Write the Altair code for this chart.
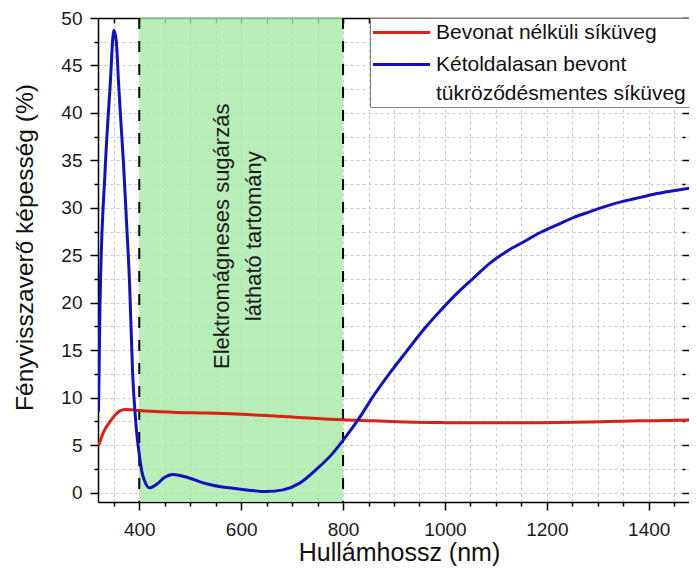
import altair as alt
import pandas as pd

# ---------------- data ----------------
SERIES = ["Bevonat nélküli síküveg", "Kétoldalasan bevont tükröződésmentes síküveg"]
COLORS = ["#dc1f17", "#1111c2"]

WL_RED = [320, 325, 333, 343, 353, 362, 372, 385, 400, 465, 531, 600, 649, 700, 750,
          800, 860, 925, 1000, 1055, 1150, 1252, 1320, 1384, 1440, 1496]
R_RED = [4.9, 5.7, 6.7, 7.5, 8.2, 8.6, 8.75, 8.72, 8.65, 8.47, 8.37, 8.25, 8.11, 7.95, 7.8,
         7.66, 7.55, 7.42, 7.36, 7.34, 7.35, 7.40, 7.48, 7.55, 7.6, 7.66]

WL_BLUE = [320, 323, 333, 343, 350, 355, 359, 364, 369, 375, 381, 387, 393, 400, 405,
           410, 420, 435, 450, 465, 480, 500, 518, 538, 560, 584, 615, 649, 682, 715,
           747, 780, 800, 830, 860, 892, 925, 957, 990, 1022, 1056, 1089, 1121, 1154,
           1187, 1220, 1253, 1285, 1318, 1351, 1384, 1416, 1449, 1496]
R_BLUE = [8.5, 20.0, 34.0, 43.0, 48.7, 47.5, 43.5, 39.0, 34.7, 28.5, 22.0, 12.5, 7.5, 4.0, 2.2,
          1.3, 0.5, 0.9, 1.6, 1.9, 1.8, 1.5, 1.15, 0.85, 0.6, 0.45, 0.25, 0.1, 0.28, 0.99,
          2.4, 4.15, 5.5, 7.7, 10.2, 12.6, 14.9, 17.1, 19.1, 20.9, 22.6, 24.2, 25.4, 26.4,
          27.4, 28.2, 29.0, 29.6, 30.2, 30.7, 31.1, 31.5, 31.8, 32.2]

BAND = [400, 800]
X_TICKS = list(range(350, 1500, 50))
Y_TICKS = [i * 2.5 for i in range(0, 21)]
X_DOMAIN = [319, 1479]
Y_DOMAIN = [-1, 50]
ANNOT_TEXT = ["Elektromágneses sugárzás", "látható tartomány"]
ANNOT_X = [563]
ANNOT_Y = [27]

FONT = "Liberation Sans"

lines_df = pd.concat([
    pd.DataFrame({"wl": WL_RED, "r": R_RED, "series": SERIES[0]}),
    pd.DataFrame({"wl": WL_BLUE, "r": R_BLUE, "series": SERIES[1]}),
])
band_df = pd.DataFrame({"start": [BAND[0]], "end": [BAND[1]]})
rule_df = pd.DataFrame({"x": BAND})
annot_df = pd.DataFrame({"x": ANNOT_X, "y": ANNOT_Y})

xs = alt.Scale(domain=X_DOMAIN, nice=False, zero=False)
ys = alt.Scale(domain=Y_DOMAIN, nice=False, zero=False)

bottom_axis = alt.Axis(
    orient="bottom", values=X_TICKS, format="d",
    labelExpr="datum.value % 200 == 0 ? datum.label : ''",
    tickSize={"condition": {"test": "datum.value % 200 == 0", "value": 8}, "value": 4},
    labelOverlap=False, labelFlush=False, labelPadding=10,
    grid=True, gridDash=[3, 3], gridColor="#c9c9c9", gridWidth=1,
    domainColor="black", domainWidth=1.5, tickColor="black", tickWidth=1.5,
    labelFont=FONT, labelFontSize=19, labelColor="#1a1a1a",
    title="Hullámhossz (nm)", titleFont=FONT, titleFontSize=25,
    titleFontWeight="normal", titleColor="#111111",
    titleX=301, titleY=58, titleBaseline="alphabetic", titleAlign="center",
)
left_axis = alt.Axis(
    orient="left", values=Y_TICKS,
    labelExpr="datum.value % 5 == 0 ? format(datum.value, 'd') : ''",
    tickSize={"condition": {"test": "datum.value % 5 == 0", "value": 8}, "value": 4},
    labelOverlap=False, labelFlush=False, labelPadding=8,
    grid=True, gridDash=[3, 3], gridColor="#c9c9c9", gridWidth=1,
    domainColor="black", domainWidth=1.5, tickColor="black", tickWidth=1.5,
    labelFont=FONT, labelFontSize=19, labelColor="#1a1a1a",
    title="Fényvisszaverő képesség (%)", titleFont=FONT, titleFontSize=24.5,
    titleFontWeight="normal", titleColor="#111111", titlePadding=23, titleY=229,
)
top_frame_axis = alt.Axis(
    orient="top", domain=True, ticks=False, labels=False, grid=False, title=None,
    domainColor="black", domainWidth=1.5,
)
top_ticks_axis = alt.Axis(
    orient="top", offset=-5, domain=False, ticks=True, labels=False, grid=False,
    title=None, values=X_TICKS, tickSize=5, tickColor="black", tickWidth=1.5,
)
right_axis = alt.Axis(
    orient="right", offset=-7, domain=False, labels=False, grid=False, title=None,
    values=Y_TICKS,
    tickSize={"condition": {"test": "datum.value % 5 == 0", "value": 7}, "value": 3},
    tickColor="black", tickWidth=1.5,
)

band = alt.Chart(band_df).mark_rect(color="#a6eaa6", opacity=0.8).encode(
    x=alt.X("start:Q", scale=xs, axis=bottom_axis),
    x2="end:Q",
)

rules = alt.Chart(rule_df).mark_rule(color="black", strokeDash=[11, 12], strokeWidth=2).encode(
    x=alt.X("x:Q", scale=xs, axis=top_ticks_axis),
)

annot = alt.Chart(annot_df).mark_text(
    text=ANNOT_TEXT, angle=270, font=FONT, fontSize=22, lineHeight=32,
    align="center", baseline="middle", color="#1a1a1a",
).encode(
    x=alt.X("x:Q", scale=xs, axis=None),
    y=alt.Y("y:Q", scale=ys, axis=right_axis),
)

legend = alt.Legend(
    title=None, orient="top-right", offset=0, padding=3,
    strokeColor="#808080", fillColor="white",
    labelFont=FONT, labelFontSize=21, labelColor="#111111", labelLimit=600,
    symbolType="M-2.85,0H2.85", symbolSize=400, symbolStrokeWidth=3,
    symbolOffset=17, labelOffset=23, rowPadding=10,
    labelExpr=("datum.label == '" + SERIES[1] + "' ? ['Kétoldalasan bevont', "
               "'tükröződésmentes síküveg'] : datum.label"),
)

lines = alt.Chart(lines_df).mark_line(strokeWidth=3, clip=True, interpolate="monotone").encode(
    x=alt.X("wl:Q", scale=xs, axis=top_frame_axis),
    y=alt.Y("r:Q", scale=ys, axis=left_axis),
    color=alt.Color("series:N", scale=alt.Scale(domain=SERIES, range=COLORS), legend=legend),
    order="wl:Q",
)

chart = alt.layer(band, rules, annot, lines).resolve_axis(
    x="independent", y="independent"
).properties(
    width=591, height=484,
    padding={"left": 90, "top": 10, "right": 0, "bottom": 64},
    autosize="none",
).configure_view(stroke=None).configure(
    background="white",
    style={"guide-label": {"lineHeight": 29}},
)

chart.save("out.html", embed_options={"renderer": "svg", "actions": False})
